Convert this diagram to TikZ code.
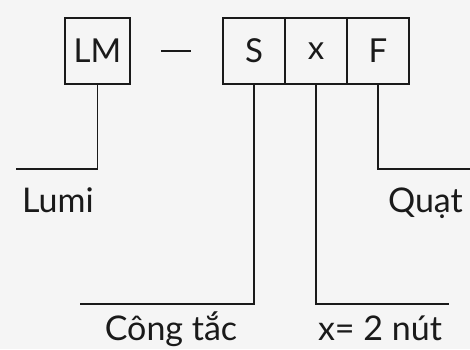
\documentclass[tikz,border=0pt]{standalone}
\usepackage{fontspec}
\setmainfont{Lato}
\definecolor{bg}{HTML}{F5F5F5}
\definecolor{ink}{HTML}{1A1A1A}
\begin{document}
\begin{tikzpicture}[x=1pt,y=1pt,
  cell/.style={draw=ink,line width=1.3pt,minimum height=66pt,inner sep=0pt,font=\fontsize{33}{38}\selectfont,text=ink},
  lbl/.style={inner sep=0pt,font=\fontsize{34}{40}\selectfont,text=ink},
  wire/.style={draw=ink,line width=1.3pt}]
\fill[bg] (0,0) rectangle (470,349);
\useasboundingbox (0,0) rectangle (470,349);
\node[cell,minimum width=65pt] (LM) at (97.5,298) {LM};
\node[cell,minimum width=62pt] (S) at (254,298) {S};
\node[cell,minimum width=62pt] (X) at (316,298) {x};
\node[cell,minimum width=62pt] (F) at (378,298) {F};
\node[inner sep=0pt,minimum width=30pt,minimum height=0pt] (dash) at (176,298) {};
\draw[wire] (dash.west) -- (dash.east);
\coordinate (lumiend) at (16,180);
\coordinate (send) at (80,45);
\coordinate (xend) at (449,45);
\coordinate (fend) at (470,180);
\draw[wire] (LM.south) |- (lumiend);
\draw[wire] (S.south) |- (send);
\draw[wire] (X.south) |- (xend);
\draw[wire] (F.south) |- (fend);
\node[lbl,anchor=base west] (lumi) at (22,137) {Lumi};
\node[lbl,anchor=base east] (quat) at (463,137) {Quạt};
\node[lbl,anchor=base] (cong) at (171,9) {Công tắc};
\node[lbl,anchor=base] (nut) at (380,9) {x= 2 nút};
\end{tikzpicture}
\end{document}
